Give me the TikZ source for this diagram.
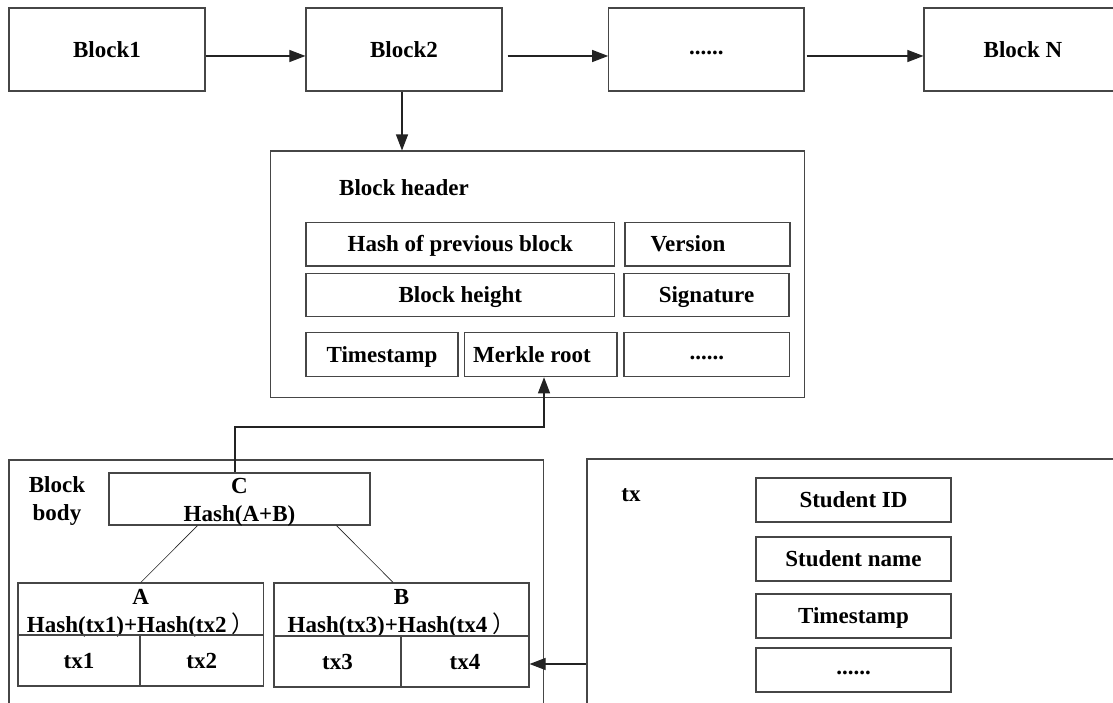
\documentclass[tikz,border=0pt]{standalone}
\usepackage{fontspec}
\setmainfont{Liberation Serif}
\newfontfamily\cjk{Noto Sans CJK SC}
\usetikzlibrary{arrows.meta,calc}
\definecolor{lcol}{RGB}{70,70,70}
\definecolor{acol}{RGB}{35,35,35}
\begin{document}
\begin{tikzpicture}[x=1pt,y=-1pt,
  bx/.style={draw=lcol, line width=1.15pt, inner sep=0pt, align=center,
             font=\fontsize{23}{28}\selectfont\bfseries},
  one/.style={text height=15.5pt, text depth=0pt},
  txt/.style={inner sep=0pt, align=center, font=\fontsize{23}{28}\selectfont\bfseries},
  arr/.style={draw=acol, line width=1.1pt, -{Triangle[length=16pt,width=12pt]}},
  mline/.style={draw=acol, line width=0.6pt}]
\useasboundingbox (0,0) rectangle (1113,703);
\clip (0,0) rectangle (1113,703);
\fill[white] (0,0) rectangle (1113,703);

% top row
\node[bx, one, minimum width=196pt, minimum height=83pt] (b1) at (107,49.5) {Block1};
\node[bx, one, minimum width=196pt, minimum height=83pt] (b2) at (404,49.5) {Block2};
\node[bx, minimum width=195.3pt, minimum height=83pt] (b3) at (706.4,49.5) {};
\node[txt, one] (b3t) at (706.4,47) {......};
\node[bx, minimum width=220pt, minimum height=83pt] (bN) at (1034,49.5) {};
\node[txt, one] (bNt) at (1023,49.5) {Block N};
\coordinate (ay) at (0,56);
\draw[arr] (b1.east |- ay) -- (b2.west |- ay);
\draw[arr, shorten <=5pt] (b2.east |- ay) -- (b3.west |- ay);
\draw[arr, shorten <=2pt] (b3.east |- ay) -- (bN.west |- ay);

% block header
\node[bx, minimum width=534pt, minimum height=246.7pt] (hdr) at (537.7,274.4) {};
\node[txt, one] (hdrt) at (404,188) {Block header};
\node[bx, one, minimum width=308.6pt, minimum height=43.7pt] (hp) at (460.3,244.2) {Hash of previous block};
\node[bx, minimum width=165pt, minimum height=43.7pt] (ver) at (707.5,244.2) {};
\node[txt, one] (vert) at (688,244.2) {Version};
\node[bx, one, minimum width=308.6pt, minimum height=43.4pt] (bh) at (460.3,295) {Block height};
\node[bx, one, minimum width=165pt, minimum height=43.4pt] (sig) at (706.5,295) {Signature};
\node[bx, one, minimum width=152pt, minimum height=44.4pt] (ts) at (382,354.5) {Timestamp};
\node[bx, minimum width=152.4pt, minimum height=44.4pt] (mr) at (540.8,354.5) {};
\node[txt, one] (mrt) at (532,354.5) {Merkle root};
\node[bx, minimum width=165.6pt, minimum height=44.4pt] (hel) at (706.8,354.5) {};
\node[txt, one] (helt) at (706.8,352) {......};
\draw[arr] (b2.south -| 402,0) -- (402,0 |- hdr.north);

% block body
\node[bx, minimum width=534.6pt, minimum height=270pt] (body) at (276.3,595) {};
\node[txt] (bodyt) at (57,501) {Block\\body};
\node[bx, minimum width=261pt, minimum height=52pt] (C) at (239.5,499) {};
\node[txt] (Ct) at (239.5,502) {C\\Hash(A+B)};
\node[bx, minimum width=245.6pt, minimum height=52pt] (Atop) at (140.8,609) {};
\node[txt] (At) at (140.8,613) {A\\Hash(tx1)+Hash(tx2\kern5pt{\cjk\mdseries ）}};
\node[bx, one, minimum width=122pt, minimum height=51pt] (tx1) at (79,660.5) {tx1};
\node[bx, one, minimum width=123.6pt, minimum height=51pt] (tx2) at (201.8,660.5) {tx2};
\node[bx, minimum width=255pt, minimum height=53pt] (Btop) at (401.5,609.5) {};
\node[txt] (Bt) at (401.5,613) {B\\Hash(tx3)+Hash(tx4\kern5pt{\cjk\mdseries ）}};
\node[bx, one, minimum width=127pt, minimum height=51pt] (tx3) at (337.5,661.5) {tx3};
\node[bx, one, minimum width=128pt, minimum height=51pt] (tx4) at (465,661.5) {tx4};
\draw[mline] ($(C.south west)!0.34!(C.south east)$) -- (Atop.north);
\draw[mline] ($(C.south west)!0.87!(C.south east)$) -- ($(Btop.north west)!0.467!(Btop.north east)$);

% C to Merkle root
\coordinate (bend) at (0,427);
\coordinate (cC) at ($(C.north west)!0.483!(C.north east)$);
\coordinate (cM) at ($(mr.south west)!0.521!(mr.south east)$);
\draw[arr] (cC) -- (cC |- bend) -- (cM |- bend) -- (cM);

% tx
\node[bx, minimum width=553pt, minimum height=271pt] (txb) at (863.5,594.5) {};
\node[txt, one] (txt) at (631,494) {tx};
\node[bx, one, minimum width=195pt, minimum height=44pt] (sid) at (853.5,500) {Student ID};
\node[bx, one, minimum width=195pt, minimum height=44pt] (sname) at (853.5,559) {Student name};
\node[bx, one, minimum width=195pt, minimum height=44pt] (sts) at (853.5,616) {Timestamp};
\node[bx, minimum width=195pt, minimum height=44pt] (sel) at (853.5,670) {};
\node[txt, one] (selt) at (853.5,667) {......};
\coordinate (ty) at (0,664);
\draw[arr] (txb.west |- ty) -- (tx4.east |- ty);
\end{tikzpicture}
\end{document}
